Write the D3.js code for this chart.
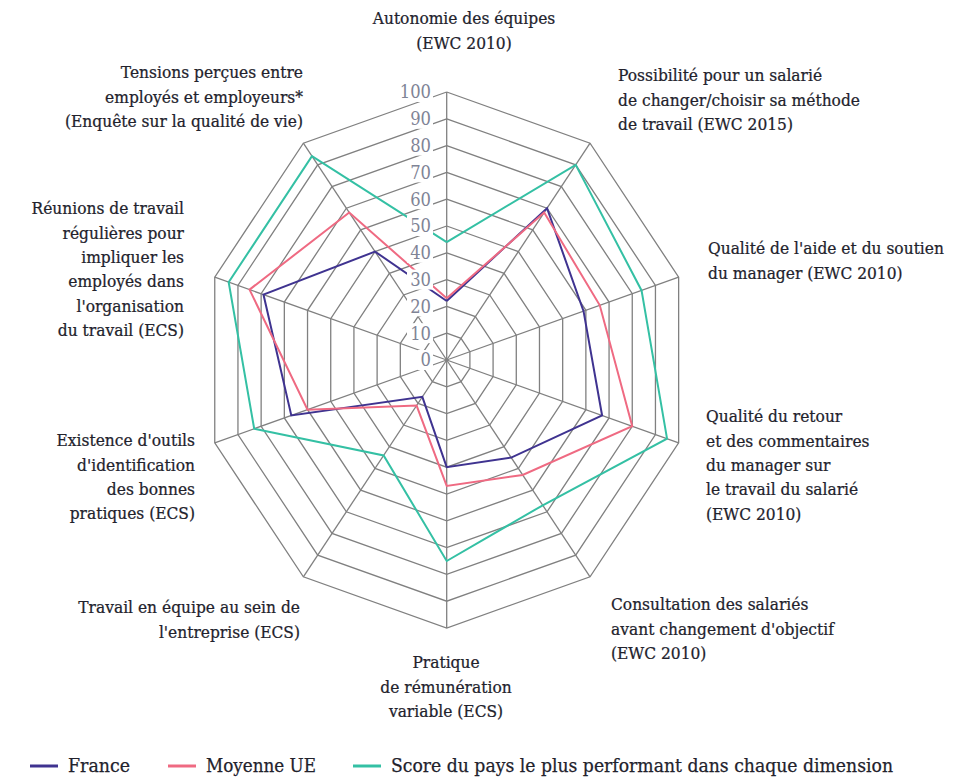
<!DOCTYPE html>
<html>
<head>
<meta charset="utf-8">
<script src="https://cdn.jsdelivr.net/npm/d3@7"></script>
<style>
  body { margin: 0; background: #fff; }
  svg text { font-family: "DejaVu Serif", serif; }
</style>
</head>
<body>
<div id="chart-wrapper"></div>
<script>
// data
var categories = [
    ["Autonomie des équipes", "(EWC 2010)"],
    ["Possibilité pour  un salarié", "de changer/choisir sa méthode", "de travail (EWC 2015)"],
    ["Qualité de l'aide et du soutien", "du manager (EWC 2010)"],
    ["Qualité du retour", "et des commentaires", "du manager sur", "le travail du salarié", "(EWC 2010)"],
    ["Consultation des salariés", "avant changement d'objectif", "(EWC 2010)"],
    ["Pratique", "de rémunération", "variable (ECS)"],
    ["Travail en équipe au sein de", "l'entreprise (ECS)"],
    ["Existence d'outils", "d'identification", "des bonnes", "pratiques (ECS)"],
    ["Réunions de travail", "régulières pour", "impliquer les", "employés dans", "l'organisation", "du travail (ECS)"],
    ["Tensions perçues entre", "employés et employeurs*", "(Enquête sur la qualité de vie)"]
];
var france    = [22, 70, 59, 67, 45, 40, 17, 67, 79, 50];
var moyenneUE = [23, 68, 66, 80, 53, 47, 21, 60, 85, 68];
var meilleur  = [44, 90, 84, 95, 67, 75, 44, 83, 94, 94];
var series_names = ["France", "Moyenne UE", "Score du pays le plus performant dans chaque dimension"];
var tick_values = [0, 10, 20, 30, 40, 50, 60, 70, 80, 90, 100];

// layout
var total_width = 967, total_height = 777;
var cx = 446.7, cy = 360;
var squeeze = 0.91; // the original picture is narrower than it is tall
var colors = ["#3f3390", "#ef6a82", "#34c0a4"];

// where each axis label goes (x, y of first line, anchor)
var label_pos = [
    {x: 464, y: 18, anchor: "middle"},
    {x: 618, y: 75, anchor: "start"},
    {x: 708, y: 248, anchor: "start"},
    {x: 706, y: 416, anchor: "start"},
    {x: 611, y: 604, anchor: "start"},
    {x: 446, y: 662, anchor: "middle"},
    {x: 300, y: 607, anchor: "end"},
    {x: 195, y: 440, anchor: "end"},
    {x: 184, y: 208, anchor: "end"},
    {x: 303, y: 72, anchor: "end"}
];
var line_height = 24.4;

var svg = d3.select('#chart-wrapper').append('svg')
    .attr('width', total_width)
    .attr('height', total_height);

var scale_r = d3.scaleLinear().domain([0, 100]).range([0, 268]);
var scale_a = d3.scaleLinear().domain([0, categories.length]).range([0, 2 * Math.PI]);

var px = function(i, v) { return cx + squeeze * scale_r(v) * Math.sin(scale_a(i)); };
var py = function(i, v) { return cy - scale_r(v) * Math.cos(scale_a(i)); };

var grid = svg.append('g').attr('class', 'grid');
var idx = d3.range(categories.length);

// rings
var ring_line = d3.line()
    .x(function(d) { return px(d.i, d.v); })
    .y(function(d) { return py(d.i, d.v); });
grid.selectAll('path.ring')
    .data(tick_values.slice(1))
    .enter()
  .append('path')
    .attr('class', 'ring')
    .attr('d', function(t) {
        return ring_line(idx.concat([0]).map(function(i) { return {i: i, v: t}; }));
    })
    .attr('fill', 'none')
    .attr('stroke', '#808080')
    .attr('stroke-width', 1.3);

// spokes
grid.selectAll('line.spoke')
    .data(idx)
    .enter()
  .append('line')
    .attr('class', 'spoke')
    .attr('x1', cx).attr('y1', cy)
    .attr('x2', function(i) { return px(i, 100); })
    .attr('y2', function(i) { return py(i, 100); })
    .attr('stroke', '#808080')
    .attr('stroke-width', 1.3);

// series
var all_series = [france, moyenneUE, meilleur];
var series_line = d3.line()
    .x(function(d, i) { return px(i % categories.length, d); })
    .y(function(d, i) { return py(i % categories.length, d); });
svg.append('g').selectAll('path.serie')
    .data(all_series)
    .enter()
  .append('path')
    .attr('class', 'serie')
    .attr('d', function(d) { return series_line(d.concat([d[0]])); })
    .attr('fill', 'none')
    .attr('stroke', function(d, i) { return colors[i]; })
    .attr('stroke-width', 2)
    .attr('stroke-linejoin', 'miter');

// tick labels on the vertical axis, with a white box behind
var tick_g = svg.append('g').selectAll('g')
    .data(tick_values)
    .enter()
  .append('g')
    .attr('transform', function(t) { return 'translate(431,' + py(0, t) + ')'; });
tick_g.append('rect')
    .attr('x', function(t) { return -(String(t).length * 10.5) - 3; })
    .attr('y', -10)
    .attr('width', function(t) { return String(t).length * 10.5 + 5; })
    .attr('height', 20)
    .attr('fill', '#fff');
tick_g.append('text')
    .attr('text-anchor', 'end')
    .attr('dy', '0.36em')
    .attr('transform', 'scale(' + squeeze + ',1)')
    .attr('font-size', 18)
    .attr('fill', '#7f8496')
    .text(function(t) { return t; });

// axis labels
var lab = svg.append('g').selectAll('text')
    .data(categories)
    .enter()
  .append('text')
    .attr('transform', function(d, i) {
        return 'translate(' + label_pos[i].x + ',' + label_pos[i].y + ') scale(' + squeeze + ',1)';
    })
    .attr('text-anchor', function(d, i) { return label_pos[i].anchor; })
    .attr('font-size', 17)
    .attr('fill', '#22222c')
    .attr('stroke', '#22222c')
    .attr('stroke-width', 0.25);
lab.selectAll('tspan')
    .data(function(d) { return d; })
    .enter()
  .append('tspan')
    .attr('x', 0)
    .attr('y', function(d, j) { return j * line_height; })
    .attr('dy', '0.36em')
    .text(function(d) { return d; });

// legend
var legend_x = [30, 168, 353];
var legend_w = [62, 110, 502];
var legend = svg.append('g').selectAll('g')
    .data(series_names)
    .enter()
  .append('g')
    .attr('transform', function(d, i) { return 'translate(' + legend_x[i] + ',766)'; });
legend.append('line')
    .attr('x1', 0).attr('x2', 28)
    .attr('stroke', function(d, i) { return colors[i]; })
    .attr('stroke-width', 3);
legend.append('text')
    .attr('x', 38)
    .attr('dy', '0.36em')
    .attr('font-size', 18)
    .attr('fill', '#22222c')
    .attr('stroke', '#22222c')
    .attr('stroke-width', 0.25)
    .attr('textLength', function(d, i) { return legend_w[i]; })
    .attr('lengthAdjust', 'spacingAndGlyphs')
    .text(function(d) { return d; });
</script>
</body>
</html>
